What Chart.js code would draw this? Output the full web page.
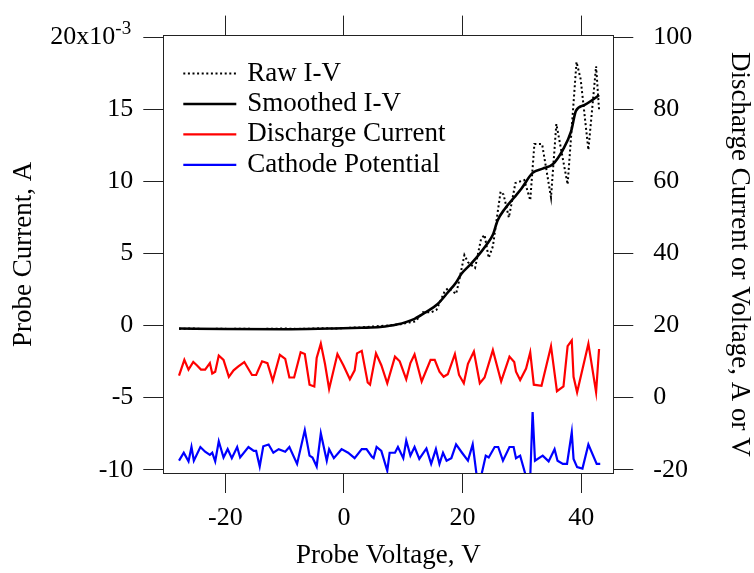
<!DOCTYPE html>
<html>
<head>
<meta charset="utf-8">
<title>Probe I-V</title>
<script src="https://cdn.jsdelivr.net/npm/chart.js@4.4.1/dist/chart.umd.min.js"></script>
<style>
  html, body { margin: 0; padding: 0; background: #fff; }
  #wrap { width: 754px; height: 573px; }
</style>
</head>
<body>
<div id="wrap"><canvas id="ivChart"></canvas></div>
<script>
// --- DATA ---
// probe current is kept in units of 10^-3 A, as on the left axis
const rawVolts = [-27.8, -25.6, -23.4, -21.1, -18.9, -16.8, -14.6, -12.4, -10.2, -8.0, -5.8, -3.6, -1.4, 0.8, 3.0, 5.2, 7.4, 9.6, 11.0, 12.1, 13.3, 14.7, 15.6, 17.0, 17.6, 18.9, 19.3, 20.3, 20.9, 22.1, 23.1, 23.7, 24.4, 25.1, 26.4, 26.9, 27.8, 28.9, 30.4, 31.4, 32.1, 33.4, 34.9, 35.8, 37.7, 39.2, 39.9, 41.2, 42.5, 43.0];
const rawCurrent = [-0.22, -0.2, -0.24, -0.22, -0.23, -0.21, -0.24, -0.22, -0.2, -0.23, -0.21, -0.18, -0.2, -0.15, -0.12, -0.05, 0.0, 0.1, 0.22, 0.3, 0.92, 0.92, 1.1, 2.4, 2.6, 2.2, 2.9, 4.9, 4.4, 4.0, 6.0, 6.3, 4.7, 5.5, 9.3, 9.1, 7.5, 9.9, 10.1, 8.7, 12.6, 12.6, 8.9, 14.0, 9.8, 18.3, 17.1, 12.2, 18.0, 15.0];

const smoothVolts = [-27.8, -20, -10, -2.4, 3.0, 6.1, 8.9, 11.9, 13.9, 15.8, 17.5, 18.9, 19.8, 21.2, 22.3, 24.0, 25.1, 25.9, 27.1, 28.7, 29.9, 31.8, 33.5, 35.2, 36.9, 38.3, 39.1, 40.5, 42.7, 43.0];
const smoothCurrent = [-0.2, -0.24, -0.25, -0.2, -0.15, -0.1, 0.07, 0.47, 0.96, 1.5, 2.3, 3.0, 3.6, 4.2, 4.7, 5.6, 6.3, 7.3, 8.1, 8.9, 9.5, 10.6, 10.9, 11.2, 12.2, 13.5, 14.9, 15.3, 15.9, 16.0];

const dischargeVolts = [-27.8, -26.9, -26.2, -25.4, -24.8, -24.1, -23.4, -22.6, -22.2, -21.7, -21.1, -20.3, -19.4, -18.6, -17.8, -16.8, -15.5, -14.8, -13.8, -12.9, -12.0, -10.8, -9.9, -9.2, -8.4, -7.3, -6.6, -5.8, -5.0, -4.6, -3.9, -3.2, -2.5, -1.1, -0.1, 1.0, 1.8, 2.2, 3.0, 4.0, 4.4, 5.4, 6.3, 7.3, 8.6, 9.4, 10.5, 11.2, 11.9, 13.1, 14.6, 15.3, 16.1, 16.8, 17.5, 18.7, 19.4, 20.2, 20.9, 21.9, 22.9, 23.7, 25.1, 26.5, 27.9, 28.7, 29.0, 29.7, 30.7, 31.4, 32.0, 33.3, 34.9, 35.9, 37.0, 37.7, 38.4, 38.7, 39.3, 41.2, 42.5, 43.0];
const dischargeCurrent = [6.1, 10.5, 7.8, 9.9, 9.0, 7.8, 7.8, 9.6, 6.7, 7.2, 11.7, 10.5, 5.8, 7.6, 8.7, 9.9, 6.3, 6.3, 10.1, 9.6, 4.7, 11.9, 10.8, 5.6, 5.6, 12.6, 12.1, 3.6, 3.1, 11.0, 15.0, 9.4, 2.4, 12.1, 9.0, 5.1, 7.6, 12.3, 13.0, 4.2, 3.6, 12.3, 9.0, 4.0, 11.4, 10.1, 5.1, 9.6, 12.0, 4.5, 10.5, 10.5, 7.2, 5.8, 6.5, 12.1, 6.3, 4.0, 9.4, 12.8, 4.0, 5.6, 13.2, 4.5, 11.4, 9.9, 7.2, 4.9, 8.1, 12.6, 3.6, 3.3, 14.3, 1.8, 3.1, 14.3, 15.9, 5.8, 1.5, 15.0, 1.5, 13.5];

const cathodeVolts = [-27.8, -27.0, -26.2, -25.7, -25.3, -24.2, -23.4, -22.6, -22.2, -21.7, -21.1, -20.3, -19.6, -18.9, -18.0, -17.5, -16.1, -15.2, -14.8, -14.2, -13.6, -12.7, -11.9, -11.0, -9.9, -9.2, -7.9, -6.6, -5.8, -5.3, -4.6, -3.9, -2.9, -2.5, -1.7, -0.4, 0.7, 1.8, 3.0, 3.8, 4.7, 5.0, 5.5, 6.3, 7.3, 7.7, 8.6, 9.1, 10.0, 10.5, 11.2, 11.9, 12.7, 13.9, 14.7, 15.5, 16.1, 16.7, 17.3, 18.1, 18.9, 19.9, 20.9, 21.7, 22.4, 23.1, 23.9, 24.4, 25.4, 26.0, 26.8, 27.9, 28.6, 29.0, 29.7, 30.7, 31.4, 31.8, 32.2, 33.5, 34.5, 35.5, 36.0, 36.9, 37.6, 38.4, 38.7, 39.3, 40.2, 41.2, 42.6, 43.2];
const cathodePotential = [-17.5, -15.3, -17.7, -13.7, -17.5, -13.7, -15.0, -15.9, -15.3, -17.7, -12.1, -16.6, -14.3, -16.8, -13.7, -16.6, -13.7, -14.8, -14.8, -19.1, -13.5, -13.0, -15.3, -14.3, -15.0, -13.7, -18.4, -9.0, -16.1, -16.6, -19.1, -9.9, -17.5, -14.3, -16.8, -14.3, -15.3, -16.8, -14.3, -14.3, -16.4, -16.8, -13.7, -14.8, -20.3, -15.3, -15.3, -13.7, -16.8, -11.9, -16.1, -13.7, -17.0, -14.1, -18.4, -14.3, -18.4, -15.3, -17.5, -16.8, -13.0, -15.3, -17.5, -13.0, -22.0, -22.0, -16.1, -16.6, -13.7, -13.7, -17.5, -13.7, -13.7, -16.8, -16.1, -22.0, -22.0, -4.0, -17.5, -16.1, -17.7, -14.3, -17.5, -18.4, -18.4, -9.6, -17.0, -19.3, -19.7, -13.0, -18.4, -18.4];

const xTicks = [-20, 0, 20, 40];
const leftTicks = [-10, -5, 0, 5, 10, 15, 20];
const rightTicks = [-20, 0, 20, 40, 60, 80, 100];

const FONT = "'Liberation Serif', 'Times New Roman', serif";
const AXIS = '#222';

function pairs(xs, ys) {
    return xs.map((x, i) => ({ x: x, y: ys[i] }));
}

// legend sits inside the plot, top left
const insideLegend = {
    id: 'insideLegend',
    afterDraw(chart) {
        const ctx = chart.ctx;
        const area = chart.chartArea;
        ctx.save();
        ctx.font = '27px ' + FONT;
        ctx.textBaseline = 'middle';
        ctx.textAlign = 'left';
        chart.data.datasets.forEach((ds, i) => {
            const y = area.top + 38 + i * 30.4;
            ctx.beginPath();
            ctx.setLineDash(ds.borderDash || []);
            ctx.strokeStyle = ds.borderColor;
            ctx.lineWidth = ds.borderWidth;
            ctx.moveTo(area.left + 20, y);
            ctx.lineTo(area.left + 73, y);
            ctx.stroke();
            ctx.setLineDash([]);
            ctx.fillStyle = '#000';
            ctx.fillText(ds.label, area.left + 84, y);
        });
        ctx.restore();
    }
};

// top left tick label "20x10^-3" with a raised exponent
const expLabel = {
    id: 'expLabel',
    afterDraw(chart) {
        const ctx = chart.ctx;
        const yS = chart.scales.y;
        const py = yS.getPixelForValue(20);
        const xEnd = yS.right - 30 - 18;
        ctx.save();
        ctx.fillStyle = '#000';
        ctx.font = '26px ' + FONT;
        ctx.textAlign = 'right';
        ctx.textBaseline = 'middle';
        ctx.fillText('20x10', xEnd, py);
        ctx.font = '19px ' + FONT;
        ctx.textAlign = 'left';
        ctx.textBaseline = 'alphabetic';
        ctx.fillText('-3', xEnd, py - 3.5);
        ctx.restore();
    }
};

function axisGrid() {
    return { drawOnChartArea: false, drawTicks: true, tickLength: 20, color: AXIS, lineWidth: 1 };
}

const ctx = document.getElementById('ivChart').getContext('2d');
new Chart(ctx, {
    type: 'line',
    data: {
        datasets: [{
            label: 'Raw I-V',
            data: pairs(rawVolts, rawCurrent),
            yAxisID: 'y',
            borderColor: '#000',
            borderWidth: 2,
            borderDash: [2, 2.6],
            pointRadius: 0,
            tension: 0,
            clip: 0
        }, {
            label: 'Smoothed I-V',
            data: pairs(smoothVolts, smoothCurrent),
            yAxisID: 'y',
            borderColor: '#000',
            borderWidth: 2.6,
            pointRadius: 0,
            cubicInterpolationMode: 'monotone',
            clip: 0
        }, {
            label: 'Discharge Current',
            data: pairs(dischargeVolts, dischargeCurrent),
            yAxisID: 'y2',
            borderColor: '#ff0000',
            borderWidth: 2.2,
            pointRadius: 0,
            tension: 0,
            clip: 0
        }, {
            label: 'Cathode Potential',
            data: pairs(cathodeVolts, cathodePotential),
            yAxisID: 'y2',
            borderColor: '#0000ff',
            borderWidth: 2.2,
            pointRadius: 0,
            tension: 0,
            clip: 0
        }]
    },
    options: {
        responsive: true,
        maintainAspectRatio: false,
        animation: false,
        layout: { padding: 0 },
        plugins: { legend: { display: false }, tooltip: { enabled: false } },
        scales: {
            x: {
                type: 'linear',
                position: 'bottom',
                min: -30.45,
                max: 45.4,
                afterBuildTicks: s => { s.ticks = xTicks.map(v => ({ value: v })); },
                afterFit: s => { s.height = 100; },
                grid: axisGrid(),
                border: { color: AXIS, width: 1 },
                ticks: { color: '#000', padding: 12, maxRotation: 0, font: { family: FONT, size: 26, lineHeight: 1 } },
                title: { display: true, text: 'Probe Voltage, V', color: '#000', padding: { top: 0, bottom: 3.5 }, font: { family: FONT, size: 27, lineHeight: 1 } }
            },
            x2: {
                type: 'linear',
                position: 'top',
                min: -30.45,
                max: 45.4,
                afterBuildTicks: s => { s.ticks = xTicks.map(v => ({ value: v })); },
                afterFit: s => { s.height = 23.3; },
                grid: axisGrid(),
                border: { color: AXIS, width: 1 },
                ticks: { display: false }
            },
            y: {
                type: 'linear',
                position: 'left',
                min: -10.23,
                max: 20.13,
                afterBuildTicks: s => { s.ticks = leftTicks.map(v => ({ value: v })); },
                afterFit: s => { s.width = 163.3; },
                grid: axisGrid(),
                border: { color: AXIS, width: 1 },
                ticks: {
                    color: '#000',
                    padding: 10,
                    font: { family: FONT, size: 26 },
                    callback: v => (v === 20 ? '' : String(v))
                },
                title: { display: true, text: 'Probe Current, A', color: '#000', padding: { top: 10.5, bottom: 0 }, font: { family: FONT, size: 27, lineHeight: 1 } }
            },
            y2: {
                type: 'linear',
                position: 'right',
                min: -20.92,
                max: 100.54,
                afterBuildTicks: s => { s.ticks = rightTicks.map(v => ({ value: v })); },
                afterFit: s => { s.width = 140.7; },
                grid: axisGrid(),
                border: { color: AXIS, width: 1 },
                ticks: { color: '#000', padding: 20, font: { family: FONT, size: 26 } },
                title: { display: true, text: 'Discharge Current or Voltage, A or V', color: '#000', padding: { top: 1.5, bottom: 0 }, font: { family: FONT, size: 27, lineHeight: 1 } }
            }
        }
    },
    plugins: [insideLegend, expLabel]
});
</script>
</body>
</html>
